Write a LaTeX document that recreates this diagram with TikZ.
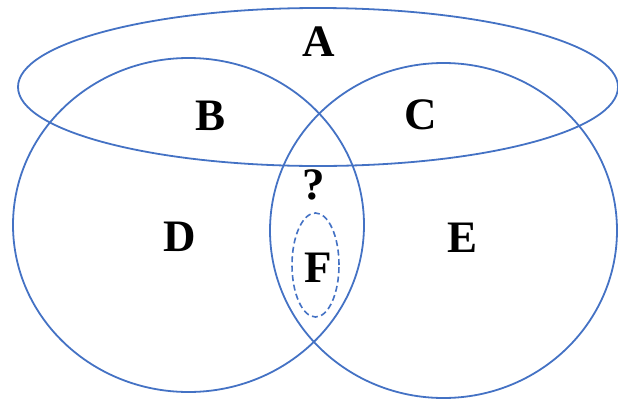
\documentclass[tikz,border=0pt]{standalone}
\usepackage{fontspec}
\setmainfont{Liberation Serif}
\usetikzlibrary{shapes.geometric}
\definecolor{setblue}{RGB}{68,114,196}

\begin{document}
\begin{tikzpicture}[
		x=1pt, y=-1pt,
		setshape/.style={
			draw=setblue,
			line width=1.8pt,
			ellipse,
			inner sep=0pt
		},
		subset/.style={setshape, line width=1.6pt, dash pattern=on 6pt off 3.5pt},
		setlabel/.style={font=\fontsize{45}{45}\selectfont\bfseries, inner sep=0pt}
		]
		
		\useasboundingbox (0,0) rectangle (618,402);
		
		% the three sets and the unknown part
		\node[setshape, minimum width=600pt, minimum height=158pt] (setA) at (318,87) {};
		\node[setshape, minimum width=351pt, minimum height=334pt] (setD) at (188.5,225) {};
		\node[setshape, minimum width=347pt, minimum height=335pt] (setE) at (443.5,230.5) {};
		\node[subset, minimum width=47pt, minimum height=104pt] (setF) at (315.5,265) {};
		
		% region labels
		\node[setlabel] (labA) at (319,42) {A};
		\node[setlabel] (labB) at (211,116) {B};
		\node[setlabel] (labC) at (421,115) {C};
		\node[setlabel] (labQ) at (314,185) {?};
		\node[setlabel] (labD) at (180,237) {D};
		\node[setlabel] (labE) at (463,238) {E};
		\node[setlabel] (labF) at (318,268) {F};
		
	\end{tikzpicture}
\end{document}
